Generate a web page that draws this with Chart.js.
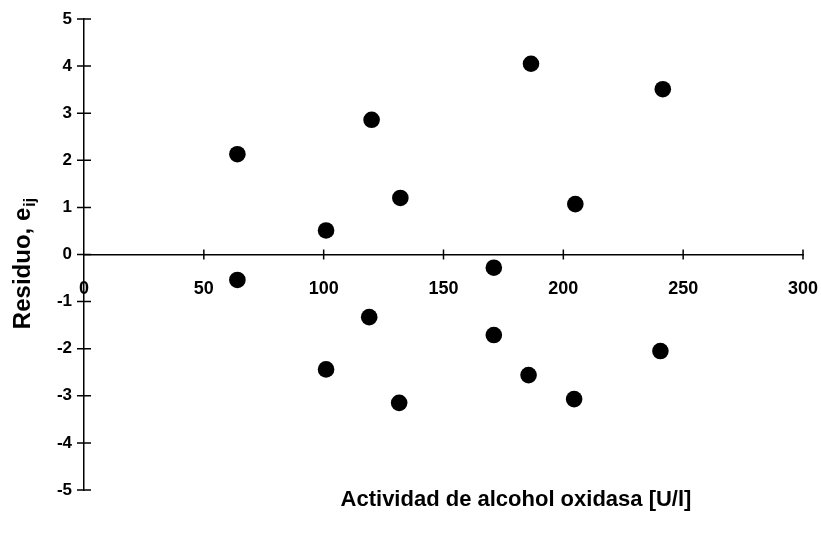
<!DOCTYPE html>
<html>
<head>
<meta charset="utf-8">
<script src="https://cdn.jsdelivr.net/npm/chart.js@4/dist/chart.umd.min.js"></script>
<style>
  html, body { margin: 0; padding: 0; background: #fff; }
  #wrap { width: 821px; height: 533px; position: relative; }
</style>
</head>
<body>
<div id="wrap"><canvas id="c" width="821" height="533"></canvas></div>
<script>
// Data
const activity = [64, 64, 101, 101, 119, 120, 131.5, 132, 171, 171, 185.5, 186.5, 204.5, 205, 240.5, 241.5];
const residual = [2.13, -0.54, 0.51, -2.44, -1.33, 2.86, -3.15, 1.2, -0.28, -1.71, -2.56, 4.05, -3.07, 1.07, -2.05, 3.51];
const xTicks = [0, 50, 100, 150, 200, 250, 300];
const yTicks = [-5, -4, -3, -2, -1, 0, 1, 2, 3, 4, 5];
const xTitle = 'Actividad de alcohol oxidasa [U/l]';
const yTitle = 'Residuo, e';
const yTitleSub = 'ij';

const FONT = '"Liberation Sans", Arial, Helvetica, sans-serif';

const points = activity.map((x, i) => ({ x: x, y: residual[i] }));

const crossTicks = {
  id: 'crossTicks',
  afterDraw(chart) {
    const ctx = chart.ctx;
    const xs = chart.scales.x, ys = chart.scales.y;
    const x0 = xs.getPixelForValue(0);
    const y0 = ys.getPixelForValue(0);
    ctx.save();
    ctx.strokeStyle = '#000';
    ctx.lineWidth = 1.5;
    ctx.beginPath();
    yTicks.forEach(v => {
      const p = ys.getPixelForValue(v);
      ctx.moveTo(x0 - 7, p); ctx.lineTo(x0 + 7, p);
    });
    xTicks.forEach(v => {
      if (v === 0) return;
      const p = xs.getPixelForValue(v);
      ctx.moveTo(p, y0 - 5); ctx.lineTo(p, y0 + 5);
    });
    ctx.stroke();

    // axis titles
    ctx.fillStyle = '#000';
    ctx.font = 'bold 22px ' + FONT;
    ctx.textAlign = 'center';
    ctx.textBaseline = 'middle';
    ctx.fillText(xTitle, 516, 500);

    ctx.translate(22, 264);
    ctx.rotate(-Math.PI / 2);
    ctx.font = 'bold 24px ' + FONT;
    const w1 = ctx.measureText(yTitle).width;
    ctx.font = 'bold 16px ' + FONT;
    const w2 = ctx.measureText(yTitleSub).width;
    const start = -(w1 + w2) / 2;
    ctx.textAlign = 'left';
    ctx.textBaseline = 'alphabetic';
    ctx.font = 'bold 24px ' + FONT;
    ctx.fillText(yTitle, start, 8);
    ctx.font = 'bold 16px ' + FONT;
    ctx.fillText(yTitleSub, start + w1 + 1, 13);
    ctx.restore();
  }
};

new Chart(document.getElementById('c'), {
  type: 'scatter',
  data: {
    datasets: [{
      data: points,
      backgroundColor: '#000',
      borderColor: '#000',
      pointRadius: 8.3,
      pointHoverRadius: 8.3,
      borderWidth: 0
    }]
  },
  options: {
    responsive: false,
    animation: false,
    devicePixelRatio: 1,
    layout: { padding: { left: 0, right: 18, top: 19, bottom: 43 } },
    plugins: { legend: { display: false }, tooltip: { enabled: false } },
    scales: {
      x: {
        type: 'linear',
        position: { y: 0 },
        min: 0, max: 300,
        afterBuildTicks: (s) => { s.ticks = xTicks.map(v => ({ value: v })); },
        afterFit: (s) => { s.paddingLeft = 0; s.paddingRight = 0; },
        ticks: { color: '#000', font: { family: FONT, size: 18, weight: 'bold' }, padding: 24, maxRotation: 0 },
        grid: { drawOnChartArea: false, drawTicks: false },
        border: { display: true, color: '#000', width: 1.5 }
      },
      y: {
        type: 'linear',
        position: 'left',
        min: -5, max: 5,
        afterBuildTicks: (s) => { s.ticks = yTicks.map(v => ({ value: v })); },
        afterFit: (s) => { s.width = 84; s.paddingTop = 0; s.paddingBottom = 0; },
        ticks: { color: '#000', font: { family: FONT, size: 17, weight: 'bold' }, padding: 12 },
        grid: { drawOnChartArea: false, drawTicks: false },
        border: { display: true, color: '#000', width: 1.5 }
      }
    }
  },
  plugins: [crossTicks]
});
</script>
</body>
</html>
